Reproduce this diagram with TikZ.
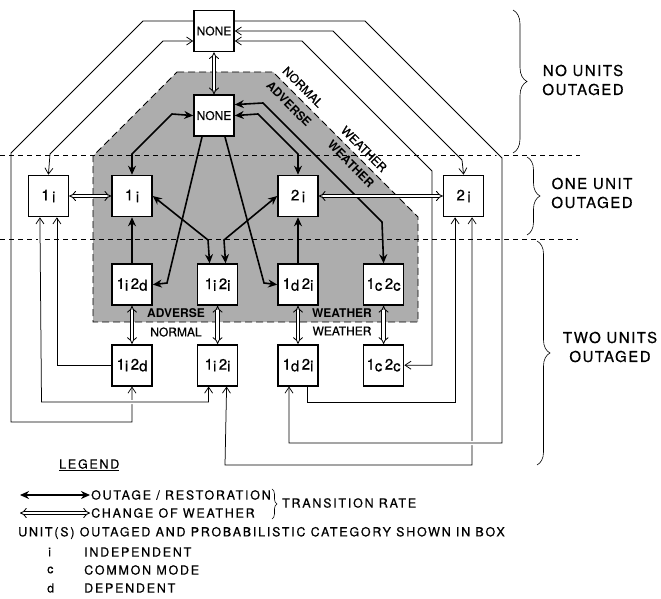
\documentclass[tikz,border=0pt]{standalone}
\usepackage{fontspec}
\setmainfont{TeX Gyre Heros}
\newfontfamily\inked[FakeBold=0.6]{TeX Gyre Heros}
\newfontfamily\spaced[LetterSpace=10,FakeBold=0.5]{TeX Gyre Heros}
\newfontfamily\wide[LetterSpace=14,FakeBold=0.5]{TeX Gyre Heros}
\usepackage{tikz}
\usetikzlibrary{arrows.meta,positioning,decorations.pathreplacing}

\newcommand{\low}[1]{\raisebox{-1.8pt}{#1}}

\begin{document}
\begin{tikzpicture}[
    x=1pt, y=-1pt,
    box/.style={rectangle, draw, line width=1.6pt, fill=white, minimum width=40pt, minimum height=41pt, inner sep=0pt, font=\inked\fontsize{15}{17}\selectfont},
    outage/.style={line width=0.75pt, -{Straight Barb[length=6pt,width=8pt]}},
    outage2/.style={line width=0.75pt, {Straight Barb[length=6pt,width=8pt]}-{Straight Barb[length=6pt,width=8pt]}},
    adv/.style={line width=1.6pt, -{Stealth[length=9pt,width=8pt]}},
    adv2/.style={line width=1.6pt, {Stealth[length=9pt,width=8pt]}-{Stealth[length=9pt,width=8pt]}},
    weather/.style={double, double distance=2.6pt, line width=0.85pt, {Implies}-{Implies}},
    bridge/.style={preaction={draw=white, line width=4pt, -, shorten <=3pt, shorten >=3pt}},
    tier/.style={dash pattern=on 5pt off 4pt, line width=0.6pt},
    region/.style={dash pattern=on 7pt off 4pt, line width=0.8pt},
    curly/.style={decorate, decoration={brace, amplitude=#1}, line width=0.6pt},
    lbl/.style={font=\inked\fontsize{12}{14}\selectfont, inner sep=0pt},
    lblb/.style={font=\bfseries\fontsize{12}{14}\selectfont, inner sep=0pt},
    sidetext/.style={font=\spaced\fontsize{15}{19}\selectfont, align=center},
    legtext/.style={font=\wide\fontsize{12.5}{14}\selectfont, anchor=west, inner sep=1pt}
]
    \useasboundingbox (0,0) rectangle (661,599);

    % adverse weather region
    \coordinate (advA) at (177,72);
    \coordinate (advB) at (273,72);
    \coordinate (advC) at (418,217);
    \coordinate (advD) at (418,322);
    \coordinate (advE) at (93,322);
    \coordinate (advF) at (93,156);
    \fill[black!32] (advA) -- (advB) -- (advC) -- (advD) -- (advE) -- (advF) -- cycle;
    \draw[region] (advA) -- (advB) -- (advC) -- (advD) -- (advE) -- (advF) -- cycle;

    % outage levels
    \draw[tier] (0,155) -- (580,155);
    \draw[tier] (0,239) -- (578,239);

    % states
    \node[box, font=\inked\fontsize{12}{14}\selectfont] (nNone) at (214,31) {NONE};
    \node[box, font=\inked\fontsize{12}{14}\selectfont, below=42pt of nNone] (aNone) {NONE};
    \node[box] (a1) at (132,196) {1\,\low{i}};
    \node[box, left=42pt of a1] (n1) {1\,\low{i}};
    \node[box] (a2) at (298,196) {2\,\low{i}};
    \node[box, right=124pt of a2] (n2) {2\,\low{i}};
    \node[box, below=46pt of a1] (a12d) {1\low{i}\,2\low{d}};
    \node[box, right=44pt of a12d] (a12i) {1\low{i}\,2\low{i}};
    \node[box, below=46pt of a2] (a1d2) {1\low{d}\,2\low{i}};
    \node[box, right=44pt of a1d2] (a1c2c) {1\low{c}\,2\low{c}};
    \node[box, below=38pt of a12d] (n12d) {1\low{i}\,2\low{d}};
    \node[box, below=38pt of a12i] (n12i) {1\low{i}\,2\low{i}};
    \node[box, below=38pt of a1d2] (n1d2) {1\low{d}\,2\low{i}};
    \node[box, below=38pt of a1c2c] (n1c2c) {1\low{c}\,2\low{c}};

    % normal weather transitions
    \draw[outage] ([yshift=10pt]nNone.west) -- (143,21) -- (11,153) -- (11,422) -| (n12d.south);
    \draw[outage2] ([yshift=-10pt]nNone.west) -- (163,41) -- (50,154) -- (n1.north);
    \draw[outage2] ([xshift=9pt]n12i.south) -- (225,465) -| ([xshift=8.5pt]n2.south);
    \draw[outage, bridge] ([yshift=10pt]nNone.east) -- (365,21) -- (502,158) -- (502,443) -| ([xshift=-9pt]n1d2.south);
    \draw[outage2] (nNone.east) -- (333,31) -- (462,160) -- (n2.north);
    \draw[outage2] ([yshift=-10pt]nNone.east) -- (302,41) -- (432,171) |- (n1c2c.east);
    \draw[outage] (n12d.west) -| ([xshift=8.5pt]n1.south);
    \draw[outage2, bridge] ([xshift=-8.5pt]n1.south) -- (41.5,402) -| ([xshift=-9pt]n12i.south);
    \draw[outage] ([xshift=9pt]n1d2.south) -- (307,402) -| ([xshift=-8.5pt]n2.south);

    % adverse weather transitions
    \draw[adv2] (aNone.west) -- (172,114) -- (132,154) -- (a1.north);
    \draw[adv2] (aNone.east) -- (258,114) -- (298,154) -- (a2.north);
    \draw[adv2] ([yshift=11pt]aNone.east) -- (263,103) -- (382,222) -- (a1c2c.north);
    \draw[adv] ([xshift=-12pt]aNone.south) -- (167,283) -- (a12d.east);
    \draw[adv] ([xshift=11pt]aNone.south) -- (264,283) -- (a1d2.west);
    \draw[adv] (a12d.north) -- (a1.south);
    \draw[adv] (a1d2.north) -- (a2.south);
    \draw[adv2] (a1.east) -- (208,240) -- ([xshift=-8pt]a12i.north);
    \draw[adv2] (a2.west) -- (224,240) -- ([xshift=8pt]a12i.north);

    % change of weather
    \draw[weather] (nNone) -- (aNone);
    \draw[weather] (n1) -- (a1);
    \draw[white, line width=4.8pt, shorten <=4pt, shorten >=4pt] (a2) -- (n2);
    \draw[weather] (a2) -- (n2);
    \foreach \a/\n in {a12d/n12d, a12i/n12i, a1d2/n1d2, a1c2c/n1c2c}
        \draw[weather] (\a) -- (\n);

    % region labels
    \node[lbl, rotate=-45] (lNorm1) at (303,87) {NORMAL};
    \node[lblb, rotate=-45] (lAdv1) at (289,104) {ADVERSE};
    \node[lbl, rotate=-45] (lWea1) at (364,149) {WEATHER};
    \node[lblb, rotate=-45] (lWea2) at (351,164) {WEATHER};
    \node[lblb] (lAdv2) at (176,313) {ADVERSE};
    \node[lbl] (lNorm2) at (176,332) {NORMAL};
    \node[lblb] (lWea3) at (342,313) {WEATHER};
    \node[lbl] (lWea4) at (342,331) {WEATHER};

    % outage level braces
    \draw[curly=14pt] (513,10) -- (513,153);
    \node[sidetext] (noUnits) at (583,80) {NO UNITS\\OUTAGED};
    \draw[curly=13pt] (527,157) -- (527,235);
    \node[sidetext] (oneUnit) at (592,193) {ONE UNIT\\OUTAGED};
    \draw[curly=13pt] (537,241) -- (537,465);
    \node[sidetext] (twoUnits) at (610,347) {TWO UNITS\\OUTAGED};

    % legend
    \node[legtext] (lgHead) at (58,465) {\underline{LEGEND}};
    \node[legtext] (lgOut) at (90,495) {OUTAGE / RESTORATION};
    \node[legtext] (lgWea) at (90,513) {CHANGE OF WEATHER};
    \draw[adv2] ([xshift=-70pt]lgOut.west) -- (lgOut.west);
    \draw[weather] ([xshift=-70pt]lgWea.west) -- (lgWea.west);
    \draw[curly=5pt] (lgOut.north east) -- (lgOut.north east |- lgWea.south);
    \node[legtext] (lgRate) at ([xshift=9pt,yshift=-2pt]lgOut.south east) {TRANSITION RATE};
    \node[legtext] (lgUnit) at (17,533) {UNIT(S) OUTAGED AND PROBABILISTIC CATEGORY SHOWN IN BOX};
    \node[legtext] (lgI) at (47,552) {i};
    \node[legtext] (lgIndep) at (83,552) {INDEPENDENT};
    \node[legtext] (lgC) at (46,570) {c};
    \node[legtext] (lgCommon) at (83,570) {COMMON MODE};
    \node[legtext] (lgD) at (46,588) {d};
    \node[legtext] (lgDep) at (83,588) {DEPENDENT};
\end{tikzpicture}
\end{document}
